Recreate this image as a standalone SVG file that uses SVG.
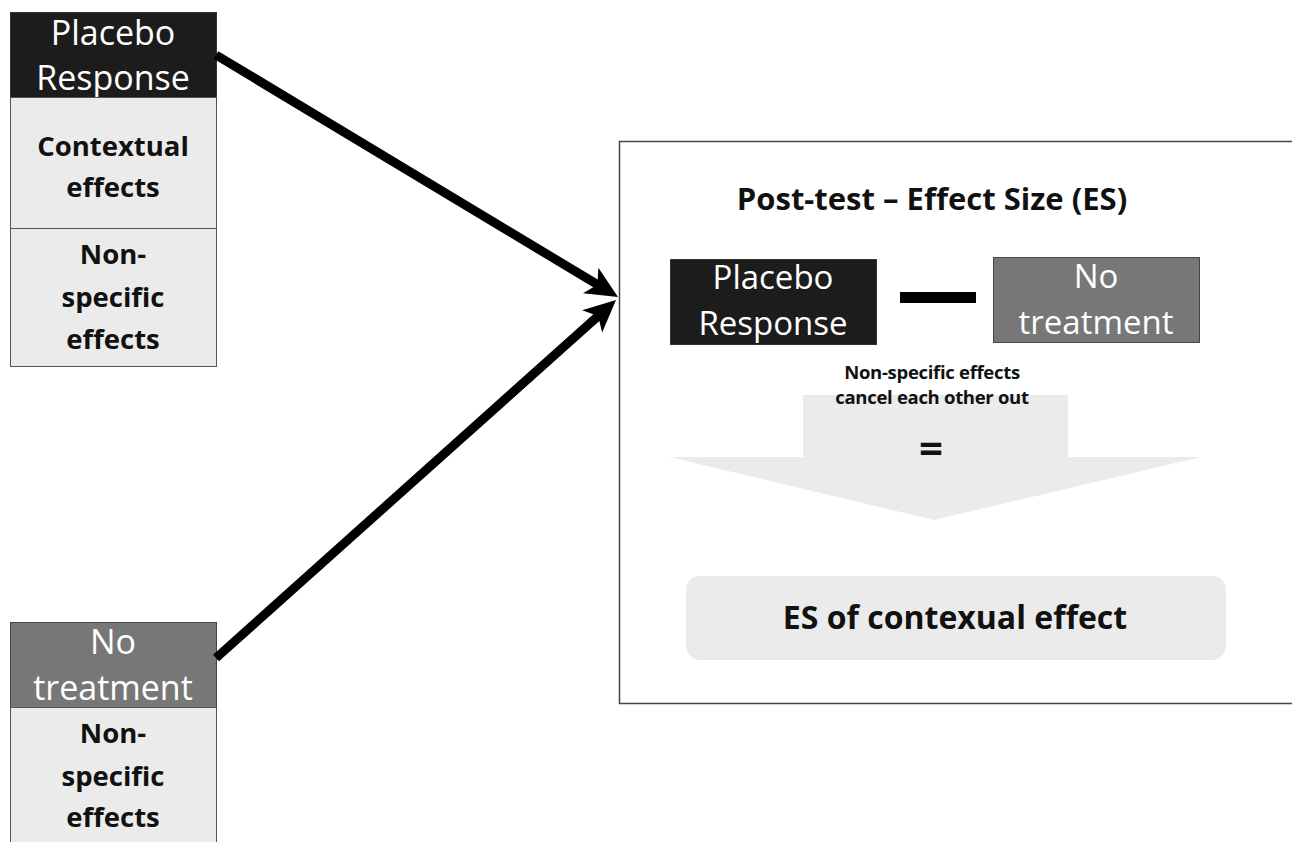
<svg xmlns="http://www.w3.org/2000/svg" width="1292" height="842" viewBox="0 0 1292 842">
<style>
.dark{fill:#1c1c1c;stroke:#333;stroke-width:1}
.grey{fill:#777;stroke:#444;stroke-width:1}
.light{fill:#ebebeb;stroke:#555;stroke-width:1}
.wt{font-family:"Open Sans","Liberation Sans",sans-serif;fill:#fff;text-anchor:middle}
.bt{font-family:"Open Sans","Liberation Sans",sans-serif;font-weight:bold;fill:#111;text-anchor:middle}
.conn{stroke:#000;stroke-width:9;fill:none}
</style>
<defs>
<marker id="ah" viewBox="0 0 32 32" markerWidth="32" markerHeight="32" refX="12" refY="16" orient="auto" markerUnits="userSpaceOnUse">
<path d="M0,1 L32,16 L0,31 L8,16 z" fill="#000"/>
</marker>
</defs>
<rect x="0" y="0" width="1292" height="842" fill="#fff"/>

<g id="frame">
<rect x="619.5" y="141.5" width="680" height="562" fill="#fff" stroke="#444" stroke-width="1.5"/>
<text class="bt" x="932" y="210" font-size="31">Post-test – Effect Size (ES)</text>
</g>

<g id="placebo-top">
<rect class="dark" x="10.5" y="12.5" width="206" height="85"/>
<text class="wt" x="113" y="45" font-size="34">Placebo</text>
<text class="wt" x="113" y="90" font-size="34">Response</text>
</g>
<g id="contextual-top">
<rect class="light" x="10.5" y="97.5" width="206" height="131"/>
<text class="bt" x="113" y="156" font-size="27.5">Contextual</text>
<text class="bt" x="113" y="197" font-size="27.5">effects</text>
</g>
<g id="nonspecific-top">
<rect class="light" x="10.5" y="228.5" width="206" height="138"/>
<text class="bt" x="113" y="264" font-size="27.5">Non-</text>
<text class="bt" x="113" y="307" font-size="27.5">specific</text>
<text class="bt" x="113" y="349" font-size="27.5">effects</text>
</g>

<g id="notreat-bottom">
<rect class="grey" x="10.5" y="622.5" width="206" height="85"/>
<text class="wt" x="113" y="654" font-size="34">No</text>
<text class="wt" x="113" y="700" font-size="34">treatment</text>
</g>
<g id="nonspecific-bottom">
<rect class="light" x="10.5" y="707.5" width="206" height="140"/>
<text class="bt" x="113" y="743" font-size="27.5">Non-</text>
<text class="bt" x="113" y="786" font-size="27.5">specific</text>
<text class="bt" x="113" y="827" font-size="27.5">effects</text>
</g>

<g id="placebo-frame">
<rect class="dark" x="670.5" y="259.5" width="206" height="85"/>
<text class="wt" x="773" y="289" font-size="33">Placebo</text>
<text class="wt" x="773" y="335" font-size="33">Response</text>
</g>
<g id="minus">
<rect x="900" y="292" width="76" height="11" fill="#000"/>
</g>
<g id="notreat-frame">
<rect class="grey" x="993.5" y="257.5" width="206" height="85"/>
<text class="wt" x="1096" y="288" font-size="33">No</text>
<text class="wt" x="1096" y="334" font-size="33">treatment</text>
</g>

<g id="cancel-arrow">
<path d="M803,395 L1068,395 L1068,457 L1201,457 L934,520 L669,457 L803,457 z" fill="#ebebeb"/>
<text class="bt" x="932" y="379" font-size="18.5" letter-spacing="-0.3">Non-specific effects</text>
<text class="bt" x="932" y="404" font-size="18.5" letter-spacing="-0.3">cancel each other out</text>
<text class="bt" x="931" y="463" font-size="42">=</text>
</g>

<g id="es-result">
<rect x="686" y="576" width="540" height="84" rx="14" fill="#ebebeb"/>
<text class="bt" x="955" y="629" font-size="32">ES of contexual effect</text>
</g>

<g id="connectors">
<line class="conn" x1="216" y1="55" x2="600.9" y2="286.7" marker-end="url(#ah)"/>
<line class="conn" x1="216" y1="658" x2="601.1" y2="313.3" marker-end="url(#ah)"/>
</g>
</svg>
